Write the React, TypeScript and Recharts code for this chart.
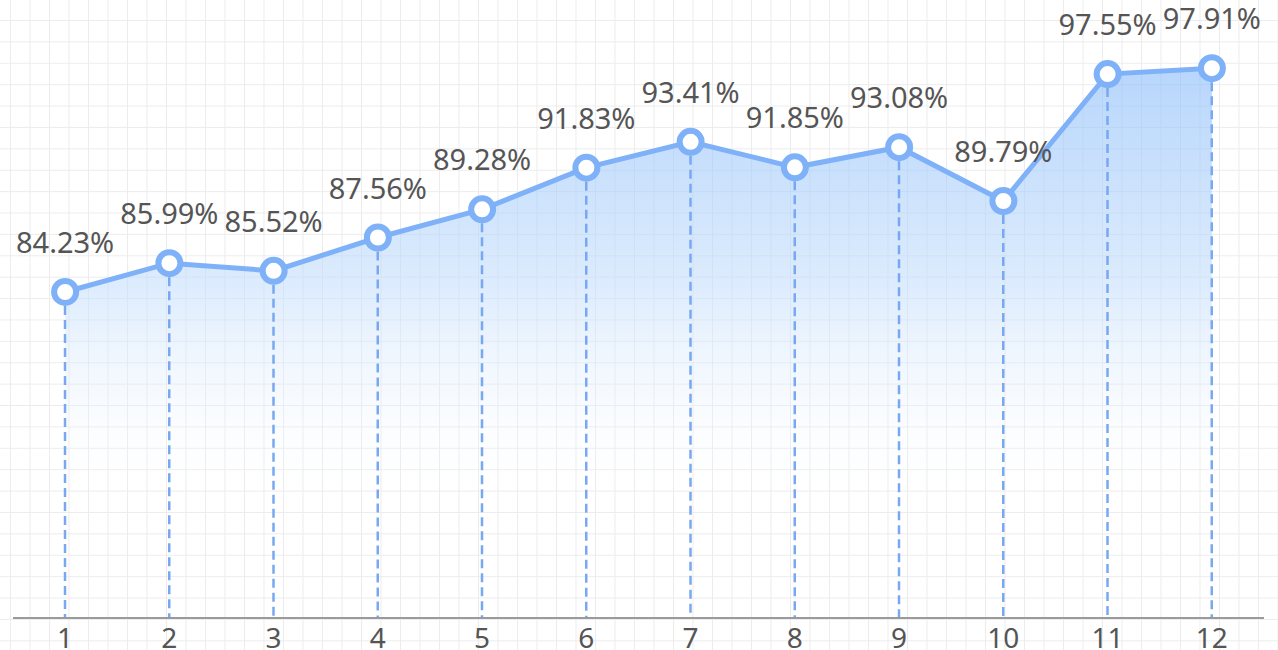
import React from 'react';
import { ComposedChart, Area, Bar, Line, XAxis, YAxis, LabelList } from 'recharts';

const categories = ['1', '2', '3', '4', '5', '6', '7', '8', '9', '10', '11', '12'];
const values = [84.23, 85.99, 85.52, 87.56, 89.28, 91.83, 93.41, 91.85, 93.08, 89.79, 97.55, 97.91];

const data = categories.map((c, i) => ({ name: c, value: values[i] }));

const DashLine = (props: any) => {
  const { x, y, width, height } = props;
  if (x == null || height == null) return null;
  const cx = x + width / 2;
  return (
    <line x1={cx} y1={y} x2={cx} y2={y + height} stroke="#78a8f2" strokeWidth={2.5} strokeDasharray="9 5" />
  );
};

export default function App() {
  return (
    <div
      style={{
        position: 'absolute',
        left: 0,
        top: 0,
        width: 1278,
        height: 650,
        backgroundColor: '#ffffff',
        backgroundImage:
          'linear-gradient(to right, #ececec 1px, transparent 1px), linear-gradient(to bottom, #ececec 1px, transparent 1px)',
        backgroundSize: '19.5px 21.4px',
        backgroundPosition: '10px 20px',
      }}
    >
      <ComposedChart width={1278} height={650} data={data} margin={{ top: 34, right: 14, bottom: 2, left: 13 }}>
        <defs>
          <linearGradient id="areaFill" x1="0" y1="0" x2="0" y2="1">
            <stop offset="0%" stopColor="#88bbfa" stopOpacity={1} />
            <stop offset="40%" stopColor="#c4defc" stopOpacity={0.95} />
            <stop offset="80%" stopColor="#ffffff" stopOpacity={0} />
          </linearGradient>
        </defs>
        <XAxis
          dataKey="name"
          axisLine={{ stroke: '#9a9a9a', strokeWidth: 2 }}
          tickLine={false}
          tickMargin={4}
          height={30}
          tick={{ fill: '#555555', fontSize: 28, fontFamily: 'Noto Sans' }}
        />
        <YAxis hide domain={[64.3, 100]} />
        <Area
          type="linear"
          dataKey="value"
          stroke="none"
          fill="url(#areaFill)"
          isAnimationActive={false}
        />
        <Bar dataKey="value" barSize={2} shape={<DashLine />} isAnimationActive={false} />
        <Line
          type="linear"
          dataKey="value"
          stroke="#7eb1f7"
          strokeWidth={5}
          dot={{ r: 11, fill: '#ffffff', stroke: '#7eb1f7', strokeWidth: 6 }}
          activeDot={false}
          isAnimationActive={false}
        >
          <LabelList
            dataKey="value"
            position="top"
            offset={39}
            formatter={(v: any) => `${v}%`}
            style={{ fill: '#555555', fontSize: 29, fontFamily: 'Noto Sans' }}
          />
        </Line>
      </ComposedChart>
    </div>
  );
}
